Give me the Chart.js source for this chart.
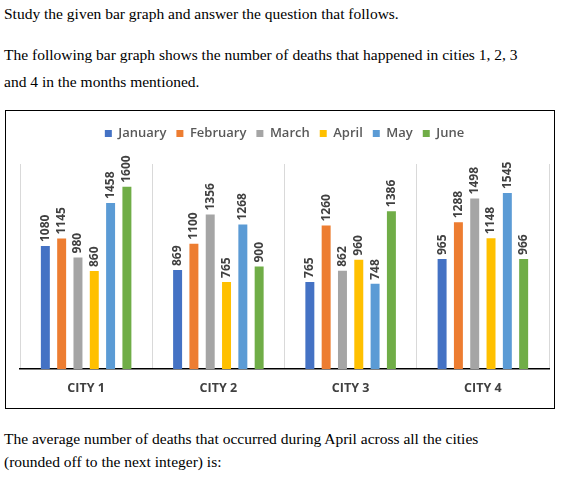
<!DOCTYPE html>
<html><head><meta charset="utf-8">
<script src="https://cdn.jsdelivr.net/npm/chart.js@4"></script>
<style>
body{margin:0;background:#fff;font-family:"Liberation Serif","Times New Roman",serif;font-size:15.5px;color:#000;}
.t{position:absolute;left:4px;}
#box{position:absolute;left:5px;top:110px;width:550px;height:299px;border:1px solid #000;box-sizing:border-box;}
#box canvas{position:absolute;left:0;top:0;}
</style></head><body>
<div class="t" style="top:5px">Study the given bar graph and answer the question that follows.</div>
<div class="t" style="top:46px">The following bar graph shows the number of deaths that happened in cities 1, 2, 3</div>
<div class="t" style="top:73px">and 4 in the months mentioned.</div>
<div id="box"><canvas id="c" width="548" height="297"></canvas></div>
<div class="t" style="top:430px">The average number of deaths that occurred during April across all the cities</div>
<div class="t" style="top:453px">(rounded off to the next integer) is:</div>
<script>
const categories=["CITY 1","CITY 2","CITY 3","CITY 4"];
const seriesNames=["January","February","March","April","May","June"];
const january=[1080,869,765,965];
const february=[1145,1100,1260,1288];
const march=[980,1356,862,1498];
const april=[860,765,960,1148];
const may=[1458,1268,748,1545];
const june=[1600,900,1386,966];
const colors=["#4472C4","#ED7D31","#A5A5A5","#FFC000","#5B9BD5","#70AD47"];
const values=[january,february,march,april,may,june];
const labelPlugin={id:'lbl',afterDatasetsDraw(ch){const ctx=ch.ctx;ctx.save();ctx.font='bold 12px "Open Sans", sans-serif';ctx.fillStyle='#404040';ctx.textAlign='left';ctx.textBaseline='middle';
ch.data.datasets.forEach((d,i)=>{ch.getDatasetMeta(i).data.forEach((b,j)=>{ctx.save();ctx.translate(b.x,b.y-4);ctx.rotate(-Math.PI/2);ctx.fillText(String(d.data[j]),0,0);ctx.restore();});});ctx.restore();}};
const legendGap={id:'lg',beforeInit(ch){const of=ch.legend.fit;ch.legend.fit=function(){of.bind(ch.legend)();this.height+=14;};}};
new Chart(document.getElementById('c'),{type:'bar',
data:{labels:categories,datasets:seriesNames.map((n,i)=>({label:n,data:values[i],backgroundColor:colors[i]}))},
options:{responsive:false,animation:false,layout:{padding:{left:14,right:5,top:6,bottom:0}},
datasets:{bar:{categoryPercentage:0.74,barPercentage:0.55}},
plugins:{tooltip:{enabled:false},legend:{position:'top',labels:{boxWidth:7,boxHeight:7,padding:10,color:'#595959',font:{family:'"Open Sans", sans-serif',size:13,weight:'600'}}}},
scales:{y:{min:0,max:1800,display:false},
x:{grid:{offset:true,color:'#d9d9d9',drawTicks:false},border:{color:'#000',width:1.5},ticks:{padding:12,color:'#404040',font:{family:'"Open Sans", sans-serif',size:12.5,weight:'bold'}}}}},
plugins:[labelPlugin,legendGap]});
</script></body></html>
